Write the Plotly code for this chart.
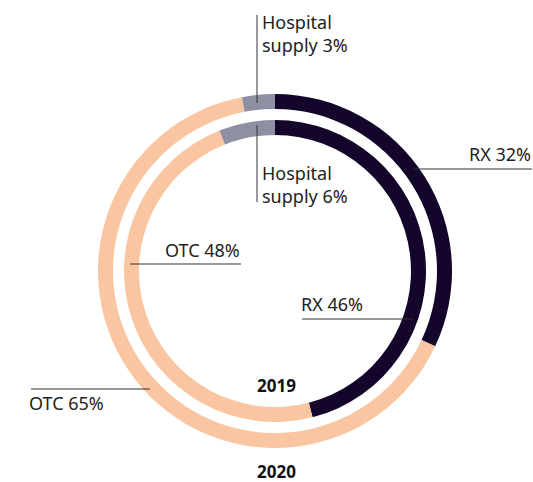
import plotly.graph_objects as go

# ---- data ----
categories = ["RX", "OTC", "Hospital supply"]
values_2020 = [32, 65, 3]
values_2019 = [46, 48, 6]
colors = ["#14052b", "#fac6a2", "#8e8fa3"]
years = ["2019", "2020"]

W, H = 533, 482
FONT = "Noto Sans"
TXT = "#222222"

fig = go.Figure()

def dom(cx, cy, r):
    return dict(x=[(cx - r) / W, (cx + r) / W],
                y=[(H - cy - r) / H, (H - cy + r) / H])

# outer ring (2020)
fig.add_trace(go.Pie(
    values=values_2020, labels=categories, marker=dict(colors=colors),
    sort=False, direction="clockwise", rotation=0, hole=162 / 177,
    textinfo="none", showlegend=False, domain=dom(275, 271, 177),
    name=years[1]))
# inner ring (2019)
fig.add_trace(go.Pie(
    values=values_2019, labels=categories, marker=dict(colors=colors),
    sort=False, direction="clockwise", rotation=0, hole=136 / 151,
    textinfo="none", showlegend=False, domain=dom(275, 271, 151),
    name=years[0]))

# invisible overlay axes in pixel units
fig.update_layout(
    xaxis=dict(range=[0, W], visible=False, domain=[0, 1], fixedrange=True),
    yaxis=dict(range=[H, 0], visible=False, domain=[0, 1], fixedrange=True),
)

def lbl(text, x, y, anchor, size=18, bold=False):
    fig.add_annotation(x=x, y=y, xref="x", yref="y", text=f"<b>{text}</b>" if bold else text,
                       showarrow=False, xanchor=anchor, yanchor="middle",
                       font=dict(family=FONT, size=size, color=TXT if not bold else "#111111"))

def line(x0, y0, x1, y1):
    fig.add_shape(type="line", x0=x0, y0=y0, x1=x1, y1=y1, xref="x", yref="y",
                  line=dict(color="#333333", width=1))

# Hospital supply (2020)
line(257, 15, 257, 103)
lbl("Hospital", 260, 22, "left")
lbl(f"supply {values_2020[2]}%", 260, 45, "left")
# Hospital supply (2019)
line(257, 125, 257, 202)
lbl("Hospital", 260, 173, "left")
lbl(f"supply {values_2019[2]}%", 260, 196, "left")
# RX 2020
line(413, 169, 532, 169)
lbl(f"{categories[0]} {values_2020[0]}%", 533, 154, "right")
# OTC 2019
line(130, 264, 241, 264)
lbl(f"{categories[1]} {values_2019[1]}%", 242, 250, "right")
# RX 2019
line(302, 319, 413, 319)
lbl(f"{categories[0]} {values_2019[0]}%", 299, 304, "left")
# OTC 2020
line(31, 389, 150, 389)
lbl(f"{categories[1]} {values_2020[1]}%", 27, 403, "left")

# year labels
lbl(years[0], 276, 385, "center", size=17, bold=True)
lbl(years[1], 276, 471, "center", size=17, bold=True)

fig.update_layout(width=W, height=H, margin=dict(l=0, r=0, t=0, b=0),
                  paper_bgcolor="white", plot_bgcolor="rgba(0,0,0,0)")

fig.write_html("out.html", config={"displayModeBar": False},
               post_script="document.body.style.margin='0';document.body.style.padding='0';")
